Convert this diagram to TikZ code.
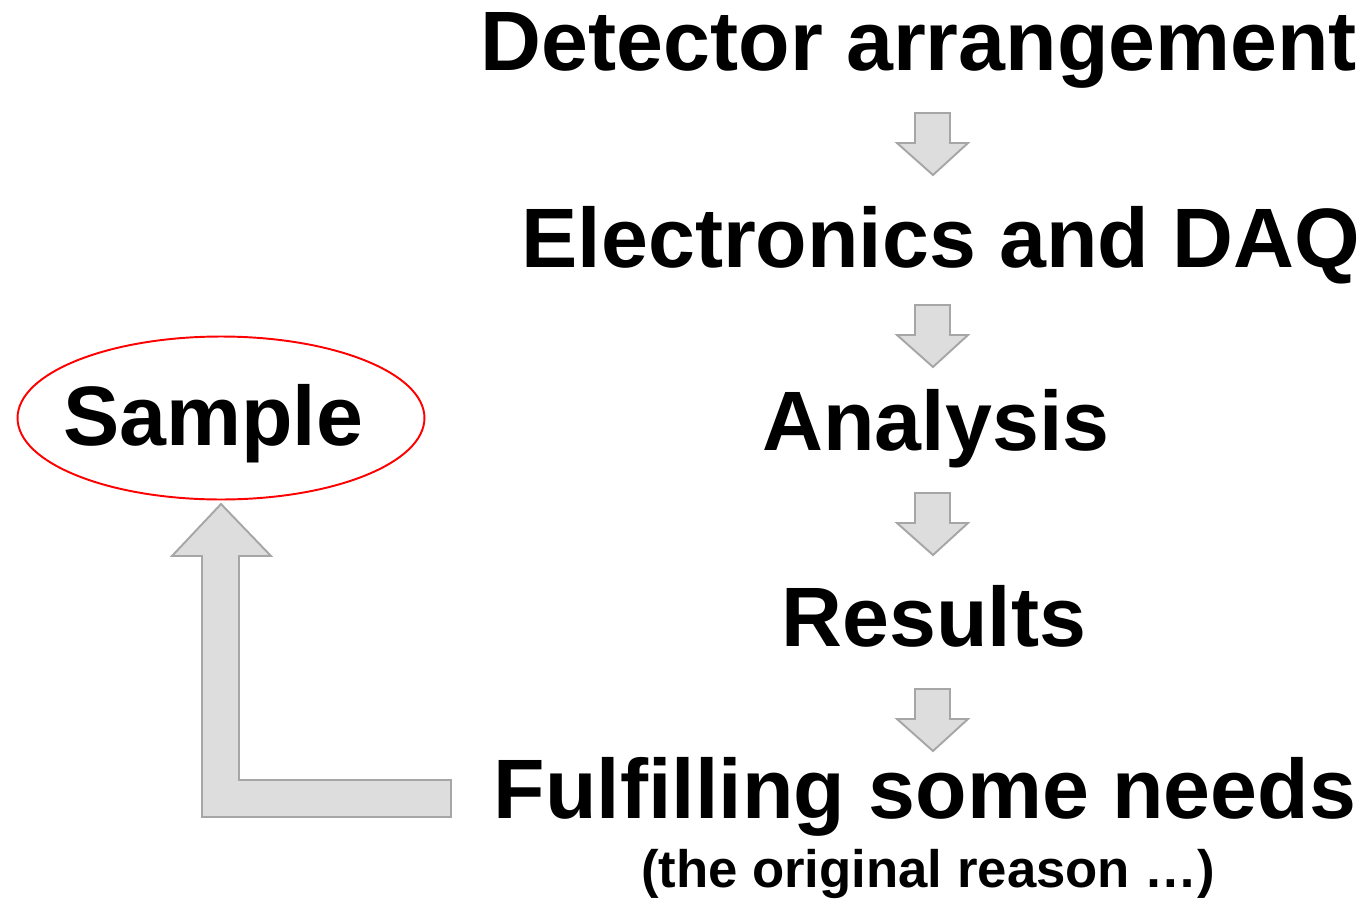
\documentclass[tikz,border=0pt]{standalone}
\usepackage{fontspec}
\setmainfont{Liberation Sans}
\usepackage{xcolor}
\usetikzlibrary{shapes.geometric}
\definecolor{arrowfill}{HTML}{DDDDDD}
\definecolor{arrowline}{HTML}{A6A6A6}

\begin{document}
\begin{tikzpicture}[x=0.02cm, y=-0.02cm,
  stage/.style={font=\fontsize{48}{52}\selectfont\bfseries, inner sep=0pt, anchor=base},
  note/.style={font=\fontsize{30}{34}\selectfont\bfseries, inner sep=0pt, anchor=base},
  blockarrow/.style={fill=arrowfill, draw=arrowline, line width=1.1pt}]
\useasboundingbox (0,0) rectangle (1370,899);

% Chain of stages on the right
\node[stage] (detector) at (919,71) {Detector arrangement};
\node[stage] (daq) at (941,267) {Electronics and DAQ};
\node[stage] (analysis) at (936,450) {Analysis};
\node[stage] (results) at (934,646) {Results};
\node[stage] (needs) at (925,818) {Fulfilling some needs};
\node[note] (reason) at (928,887) {(the original reason \dots)};

% Block arrows between the stages
\foreach \y in {113,305,493,689} {
  \draw[blockarrow] (915,\y) -- (950,\y) -- (950,{\y+30}) -- (968,{\y+30})
    -- (933,{\y+62}) -- (897,{\y+30}) -- (915,{\y+30}) -- cycle;
}

% Sample with its red ring
\node[ellipse, draw=red, line width=1.1pt, minimum width=8.14cm, minimum height=3.26cm] (ring) at (221,418) {};
\node[stage] (sample) at (213,445) {Sample};

% Feedback arrow back to the sample
\draw[blockarrow] (202,817) -- (202,556) -- (172,556) -- (221,504) -- (271,556)
  -- (239,556) -- (239,780) -- (451,780) -- (451,817) -- cycle;
\end{tikzpicture}
\end{document}
